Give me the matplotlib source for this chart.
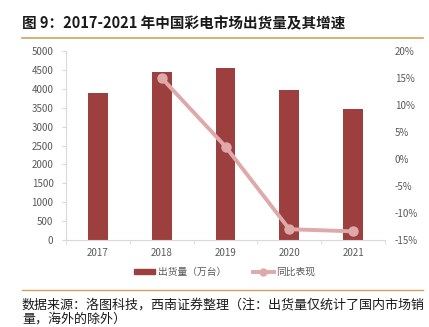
import matplotlib
matplotlib.use("Agg")
import matplotlib.pyplot as plt
from matplotlib.lines import Line2D
from matplotlib.patches import Patch
import numpy as np

plt.rcParams['font.family'] = ['Noto Sans CJK SC', 'DejaVu Sans']

years = ['2017', '2018', '2019', '2020', '2021']
shipments = [3880, 4450, 4560, 3970, 3460]
growth_years = ['2018', '2019', '2020', '2021']
growth = [15.0, 2.3, -13.0, -13.4]

title = '图 9：2017-2021 年中国彩电市场出货量及其增速'
source = '数据来源：洛图科技，西南证券整理（注：出货量仅统计了国内市场销'
source2 = '量，海外的除外）'
bar_label = '出货量（万台）'
line_label = '同比表现'

bar_color = '#9E3F3F'
line_color = '#E0A9A9'
tick_color = '#595959'
rule_color = '#D2A35E'

fig = plt.figure(figsize=(4.29, 3.27), dpi=100)
W, H = 429, 327
ax = fig.add_axes([66 / W, 1 - 240 / H, (385 - 66) / W, (240 - 51) / H])

x = np.arange(len(years))
ax.bar(x, shipments, width=0.31, color=bar_color, zorder=2)
ax.set_xlim(-0.5, len(years) - 0.5)
ax.set_ylim(0, 5000)
ax.set_yticks(np.arange(0, 5001, 500))
ax.set_xticks(x)
ax.set_xticklabels(years)
ax.set_xticks(np.arange(-0.5, len(years)), minor=True)
ax.tick_params(axis='x', which='major', length=0, pad=6, labelsize=7, colors=tick_color)
ax.tick_params(axis='x', which='minor', length=3, color='#D9D9D9')
ax.tick_params(axis='y', length=3, color='#D9D9D9', labelsize=7, colors=tick_color, pad=6)
for s in ['top', 'right']:
    ax.spines[s].set_visible(False)
ax.spines['left'].set_color('#D9D9D9')
ax.spines['bottom'].set_color('#D9D9D9')

ax2 = ax.twinx()
gx = [years.index(y) for y in growth_years]
ax2.plot(gx, growth, color=line_color, lw=2.8, marker='o', ms=6.5, zorder=3)
ax2.set_ylim(-15, 20)
ax2.set_yticks(np.arange(-15, 21, 5))
ax2.set_yticklabels([f'{v}%' for v in range(-15, 21, 5)])
ax2.tick_params(axis='y', length=0, labelsize=7, colors=tick_color, pad=7)
for s in ['top', 'right', 'left', 'bottom']:
    ax2.spines[s].set_visible(False)

# title and rules
fig.text(22 / W, 1 - 23 / H, title, fontsize=10.5, fontweight='bold', color='#1a1a1a',
         va='center', ha='left')
fig.add_artist(Line2D([22 / W, 423 / W], [1 - 37.5 / H] * 2, color=rule_color, lw=1.2))
fig.add_artist(Line2D([22 / W, 423 / W], [1 - 290 / H] * 2, color=rule_color, lw=1.0))

handles = [Patch(color=bar_color, label=bar_label),
           Line2D([], [], color=line_color, lw=2.8, marker='o', ms=5, label=line_label)]
fig.legend(handles=handles, loc='center', bbox_to_anchor=(225 / W, 1 - 272 / H), ncol=2,
           frameon=False, fontsize=7, labelcolor=tick_color, handlelength=2.1,
           handleheight=0.5, columnspacing=2.8, handletextpad=0.3)

fig.text(22 / W, 1 - 305 / H, source, fontsize=9.4, style='italic', color='#1a1a1a',
         va='center', ha='left')
fig.text(22 / W, 1 - 319 / H, source2, fontsize=9.4, style='italic', color='#1a1a1a',
         va='center', ha='left')

fig.savefig('out.png', dpi=100)
